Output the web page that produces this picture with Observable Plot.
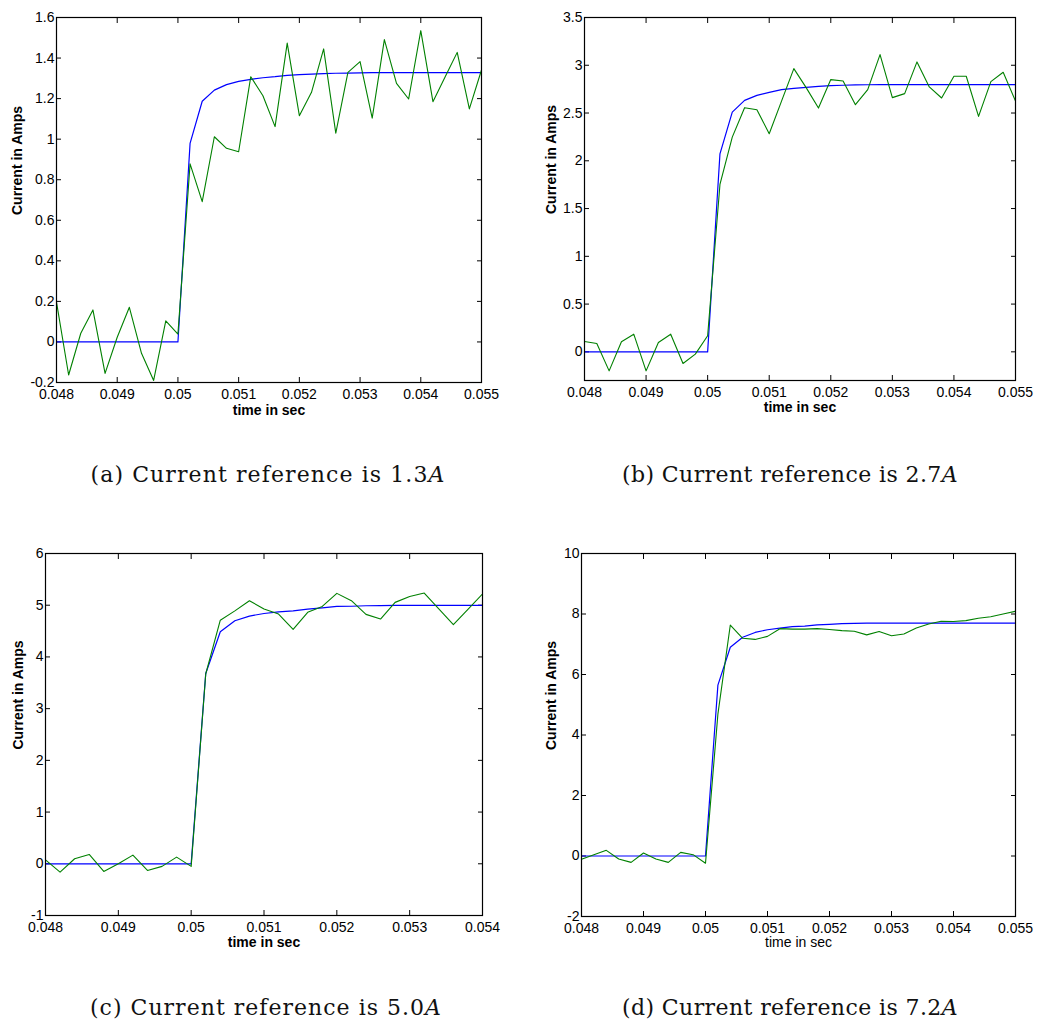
<!DOCTYPE html>
<html><head><meta charset="utf-8">
<script src="https://cdn.jsdelivr.net/npm/d3@7"></script>
<script src="https://cdn.jsdelivr.net/npm/@observablehq/plot@0.6"></script>
<style>
body{margin:0;background:#fff;}
#wrap{position:relative;width:1041px;height:1027px;background:#fff;overflow:hidden;}
.panel{position:absolute;}
.cap{position:absolute;font-family:"DejaVu Serif","Liberation Serif",serif;font-size:22px;line-height:1;color:#111;white-space:nowrap;transform:translateX(-50%);z-index:2;}
</style></head><body><div id="wrap"></div>
<script>
// time samples (s)
const time = [0.048,0.0482,0.0484,0.0486,0.0488,0.049,0.0492,0.0494,0.0496,0.0498,
  0.05,0.0502,0.0504,0.0506,0.0508,0.051,0.0512,0.0514,0.0516,0.0518,
  0.052,0.0522,0.0524,0.0526,0.0528,0.053,0.0532,0.0534,0.0536,0.0538,
  0.054,0.0542,0.0544,0.0546,0.0548,0.055];
const timeC = time.slice(0, 31);

// (a) 1.3 A
const greenA = [0.196,-0.163,0.043,0.158,-0.155,0.023,0.171,-0.056,-0.19,0.104,
  0.039,0.878,0.692,1.012,0.955,0.938,1.308,1.214,1.062,1.474,
  1.116,1.231,1.445,1.030,1.329,1.382,1.104,1.491,1.275,1.198,
  1.535,1.185,1.307,1.428,1.149,1.341];
const blueA = [0,0,0,0,0,0,0,0,0,0,
  0,0.979,1.187,1.242,1.269,1.285,1.295,1.303,1.308,1.315,
  1.318,1.321,1.323,1.325,1.326,1.327,1.328,1.328,1.328,1.328,
  1.328,1.328,1.328,1.328,1.328,1.328];
// (b) 2.7 A
const greenB = [0.108,0.087,-0.199,0.105,0.185,-0.199,0.098,0.185,-0.122,-0.024,
  0.168,1.752,2.248,2.556,2.535,2.283,2.625,2.965,2.766,2.552,
  2.850,2.836,2.587,2.745,3.112,2.661,2.703,3.035,2.773,2.657,
  2.885,2.885,2.465,2.829,2.927,2.626];
const blueB = [0,0,0,0,0,0,0,0,0,0,
  0,2.073,2.51,2.633,2.685,2.717,2.745,2.759,2.769,2.78,
  2.787,2.791,2.794,2.796,2.797,2.797,2.797,2.797,2.797,2.797,
  2.797,2.797,2.797,2.797,2.797,2.797];
// (c) 5.0 A
const greenC = [0.077,-0.161,0.097,0.18,-0.148,0,0.167,-0.129,-0.05,0.129,
  -0.05,3.67,4.71,4.89,5.087,4.926,4.83,4.533,4.862,4.977,
  5.229,5.087,4.823,4.733,5.055,5.17,5.235,4.93,4.623,4.92,
  5.216];
const blueC = [0,0,0,0,0,0,0,0,0,0,
  0,3.68,4.488,4.70,4.79,4.84,4.87,4.89,4.926,4.95,
  4.977,4.98,4.99,4.993,4.995,4.997,4.997,4.997,4.997,4.997,
  4.997];
// (d) 7.2 A
const greenD = [-0.11,0.044,0.187,-0.1,-0.21,0.1,-0.1,-0.21,0.12,0.044,
  -0.24,4.69,7.636,7.196,7.16,7.26,7.515,7.50,7.50,7.515,
  7.49,7.45,7.43,7.31,7.42,7.28,7.34,7.54,7.67,7.76,
  7.75,7.78,7.86,7.91,8.0,8.09];
const blueD = [0,0,0,0,0,0,0,0,0,0,
  0,5.65,6.90,7.23,7.39,7.48,7.53,7.58,7.60,7.64,
  7.66,7.68,7.69,7.70,7.70,7.70,7.70,7.70,7.70,7.70,
  7.70,7.70,7.70,7.70,7.70,7.70];

// tick values
const xTicks55 = [0.048,0.049,0.05,0.051,0.052,0.053,0.054,0.055];
const xTicks54 = [0.048,0.049,0.05,0.051,0.052,0.053,0.054];
const yTicksA = [-0.2,0,0.2,0.4,0.6,0.8,1,1.2,1.4,1.6];
const yTicksB = [0,0.5,1,1.5,2,2.5,3,3.5];
const yTicksC = [-1,0,1,2,3,4,5,6];
const yTicksD = [-2,0,2,4,6,8,10];

const captions = ["(a) Current reference is 1.3", "(b) Current reference is 2.7",
  "(c) Current reference is 5.0", "(d) Current reference is 7.2"];
const xLabel = "time in sec";
const yLabel = "Current in Amps";

const fmt = d => String(+(+d).toFixed(4));
const wrap = document.getElementById("wrap");

function panel(o) {
  const g = o.t.map((t, i) => ({t, v: o.green[i]}));
  const b = o.t.map((t, i) => ({t, v: o.blue[i]}));
  const chart = Plot.plot({
    width: o.w, height: o.h,
    marginLeft: o.m[0], marginRight: o.m[1], marginTop: o.m[2], marginBottom: o.m[3],
    x: {domain: o.xd},
    y: {domain: o.yd},
    style: {fontFamily: "'Liberation Sans', Arial, Helvetica, sans-serif", fontSize: "14px", background: "transparent", overflow: "visible", color: "#000"},
    marks: [
      Plot.axisX(o.xt, {anchor: "bottom", tickSize: -5, tickPadding: 12, tickFormat: fmt, label: null, fontSize: 14}),
      Plot.axisX(o.xt, {anchor: "top", tickSize: -5, tickFormat: () => "", label: null}),
      Plot.axisY(o.yt, {anchor: "left", tickSize: -5, tickPadding: 7, tickFormat: fmt, label: null, fontSize: 14}),
      Plot.axisY(o.yt, {anchor: "right", tickSize: -5, tickFormat: () => "", label: null}),
      Plot.line(b, {x: "t", y: "v", stroke: "#0000ff", strokeWidth: 1.2, clip: true}),
      Plot.line(g, {x: "t", y: "v", stroke: "#008000", strokeWidth: 1.1, clip: true}),
      Plot.frame({stroke: "#000", strokeWidth: 1.2}),
      Plot.text([xLabel], {text: d => d, frameAnchor: "bottom", dy: o.xdy, fontWeight: o.xbold ? "bold" : "normal", fontSize: 14}),
      Plot.text([yLabel], {text: d => d, frameAnchor: "left", dx: o.ydx, dy: 15, rotate: -90, fontWeight: "bold", fontSize: 14})
    ]
  });
  chart.classList.add("panel");
  chart.style.left = o.left + "px";
  chart.style.top = o.top + "px";
  wrap.appendChild(chart);

  const cap = document.createElement("div");
  cap.className = "cap";
  cap.style.left = o.capX + "px";
  cap.style.top = o.capY + "px";
  cap.innerHTML = o.cap + "<i>A</i>";
  wrap.appendChild(cap);
  // fit the serif caption to the width of the reference's Computer Modern text
  const w = cap.getBoundingClientRect().width;
  const n = (o.cap + "A").length;
  cap.style.letterSpacing = ((o.capW - w) / n) + "px";
}

panel({left: 0, top: 0, w: 500, h: 430, m: [56, 19, 17, 48], xd: [0.048, 0.055], yd: [-0.2, 1.6],
  xt: xTicks55, yt: yTicksA, t: time, green: greenA, blue: blueA, xdy: 32, ydx: -39, xbold: true,
  cap: captions[0], capX: 268, capY: 464, capW: 355});
panel({left: 0 + 530, top: 0, w: 511, h: 430, m: [54, 26, 17, 50], xd: [0.048, 0.055], yd: [-0.3, 3.5],
  xt: xTicks55, yt: yTicksB, t: time, green: greenB, blue: blueB, xdy: 31, ydx: -33, xbold: true,
  cap: captions[1], capX: 790, capY: 464, capW: 336});
panel({left: 0, top: 530, w: 500, h: 430, m: [45, 18, 23, 45], xd: [0.048, 0.054], yd: [-1, 6],
  xt: xTicks54, yt: yTicksC, t: timeC, green: greenC, blue: blueC, xdy: 31, ydx: -27, xbold: true,
  cap: captions[2], capX: 266, capY: 997, capW: 352});
panel({left: 530, top: 530, w: 511, h: 430, m: [51, 26, 23, 44], xd: [0.048, 0.055], yd: [-2, 10],
  xt: xTicks55, yt: yTicksD, t: time, green: greenD, blue: blueD, xdy: 30, ydx: -30, xbold: false,
  cap: captions[3], capX: 790, capY: 997, capW: 336});
</script>
</body></html>
